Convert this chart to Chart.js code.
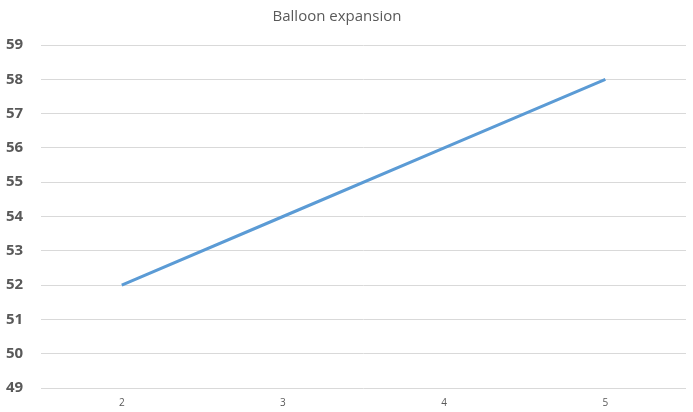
<!DOCTYPE html>
<html>
<head>
<meta charset="utf-8">
<script src="https://cdn.jsdelivr.net/npm/chart.js@4/dist/chart.umd.min.js"></script>
<style>
  html, body { margin: 0; padding: 0; background: #fff; overflow: hidden; }
  #wrap { width: 693px; height: 418px; }
</style>
</head>
<body>
<div id="wrap"><canvas id="chart"></canvas></div>
<script>
// Chart data
const categories = ['2', '3', '4', '5'];
const expansion = [52, 54, 56, 58];
const yMin = 49;
const yMax = 59;

const ctx = document.getElementById('chart').getContext('2d');

new Chart(ctx, {
    type: 'line',
    data: {
        labels: categories,
        datasets: [{
            label: 'Balloon expansion',
            data: expansion,
            borderColor: '#5b9bd5',
            borderWidth: 3,
            pointRadius: 0,
            tension: 0,
            fill: false
        }]
    },
    options: {
        responsive: true,
        maintainAspectRatio: false,
        animation: false,
        layout: {
            padding: { left: -12, right: 7, top: 0, bottom: 0 }
        },
        plugins: {
            legend: { display: false },
            tooltip: { enabled: false },
            title: {
                display: true,
                text: 'Balloon expansion',
                color: '#595959',
                font: { family: 'Open Sans', size: 15, weight: 'normal' },
                padding: { top: 8, bottom: 19 }
            }
        },
        scales: {
            x: {
                offset: true,
                grid: { display: false, drawTicks: false, tickLength: 0 },
                border: { display: false },
                ticks: {
                    color: '#595959',
                    font: { family: 'Open Sans', size: 10 },
                    padding: 9
                }
            },
            y: {
                min: yMin,
                max: yMax,
                ticks: {
                    stepSize: 1,
                    color: '#595959',
                    font: { family: 'Open Sans', size: 15, weight: 'bold' },
                    padding: 18
                },
                grid: {
                    color: '#d9d9d9',
                    lineWidth: 1,
                    drawTicks: false
                },
                border: { display: false }
            }
        }
    }
});
</script>
</body>
</html>
